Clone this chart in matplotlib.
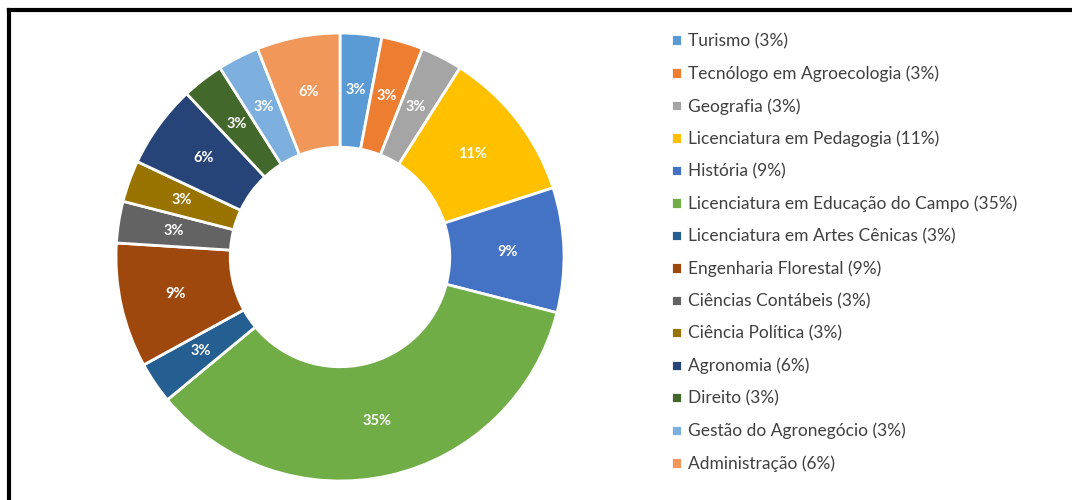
import numpy as np
import matplotlib.pyplot as plt
from matplotlib.lines import Line2D

cursos = ["Turismo", "Tecnólogo em Agroecologia", "Geografia",
          "Licenciatura em Pedagogia", "História",
          "Licenciatura em Educação do Campo", "Licenciatura em Artes Cênicas",
          "Engenharia Florestal", "Ciências Contábeis", "Ciência Política",
          "Agronomia", "Direito", "Gestão do Agronegócio", "Administração"]
percentuais = [3, 3, 3, 11, 9, 35, 3, 9, 3, 3, 6, 3, 3, 6]
cores = ["#5B9BD5", "#ED7D31", "#A5A5A5", "#FFC000", "#4472C4", "#70AD47",
         "#255E91", "#9E480E", "#636363", "#997300", "#264478", "#43682B",
         "#7CAFDD", "#F1975A"]

plt.rcParams['font.family'] = ['Lato', 'DejaVu Sans']

fig = plt.figure(figsize=(10.72, 5), dpi=100)
ax = fig.add_axes([116/1072, 19/500, 448/1072, 448/500])

wedges, _ = ax.pie(percentuais, colors=cores, startangle=90, counterclock=False,
                   radius=1.0, wedgeprops=dict(width=0.51, edgecolor='white', linewidth=2))
for w, p in zip(wedges, percentuais):
    ang = np.deg2rad((w.theta1 + w.theta2) / 2)
    ax.text(0.75 * np.cos(ang), 0.75 * np.sin(ang), f"{p}%", ha='center', va='center',
            color='white', fontsize=10.5, fontweight='bold')
ax.set_xlim(-1, 1)
ax.set_ylim(-1, 1)
ax.set_aspect('equal')
ax.axis('off')

rotulos = [f"{c} ({p}%)" for c, p in zip(cursos, percentuais)]
leg = fig.legend(wedges, rotulos, loc='upper left', bbox_to_anchor=(671/1072, 1 - 33/500),
                 frameon=False, fontsize=12.5, handlelength=0.65, handleheight=0.65,
                 handletextpad=0.35, labelspacing=0.93, borderpad=0, borderaxespad=0)
for t in leg.get_texts():
    t.set_color('#404040')

# moldura: apenas linhas superior e esquerda
fig.add_artist(Line2D([9/1072, 1], [1 - 10/500, 1 - 10/500], color='black', lw=3,
                      transform=fig.transFigure))
fig.add_artist(Line2D([9/1072, 9/1072], [0, 1 - 10/500], color='black', lw=3,
                      transform=fig.transFigure))

fig.savefig('out.png', dpi=100)
